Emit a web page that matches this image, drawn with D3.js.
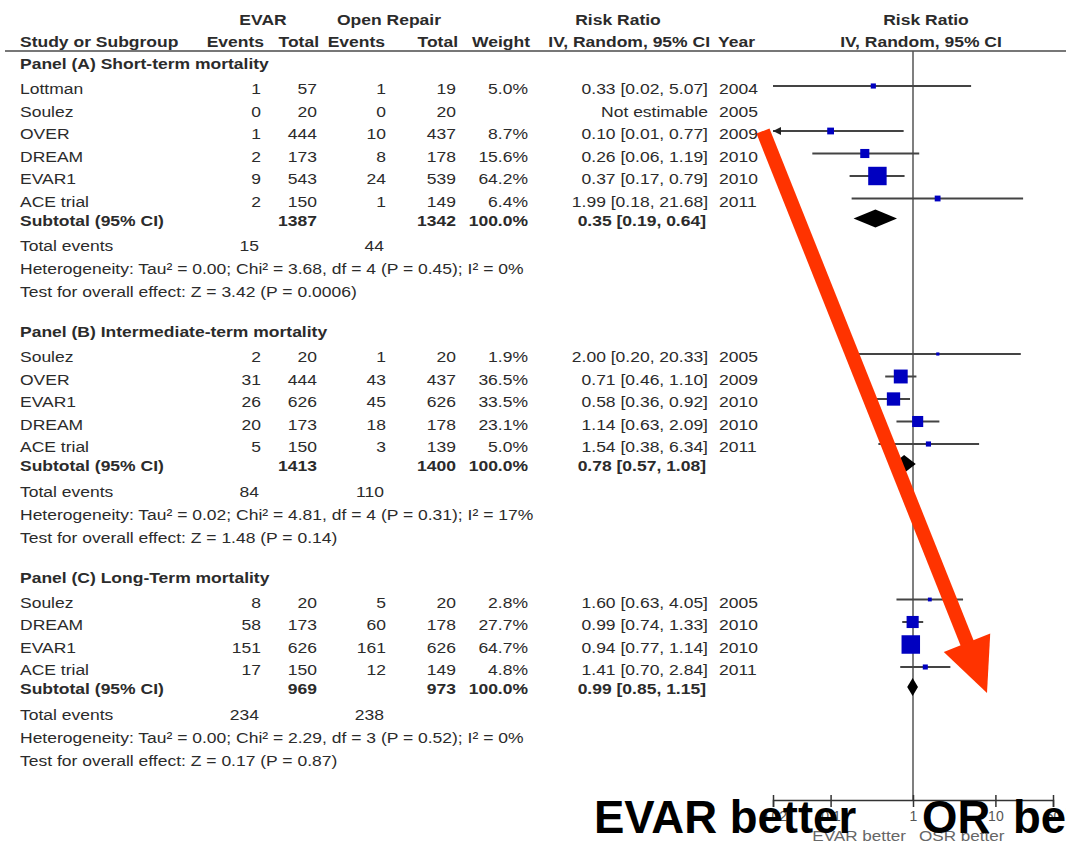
<!DOCTYPE html>
<html>
<head>
<meta charset="utf-8">
<script src="https://cdn.jsdelivr.net/npm/d3@7"></script>
<style>
  body { margin: 0; background: #fff; }
  svg text { font-family: "Liberation Sans", Arial, sans-serif; }
</style>
</head>
<body>
<div id="chart"></div>
<script>
// study rows: [name, evarEvents, evarTotal, osrEvents, osrTotal, weight %, RR, lower, upper, year]
const panelTitles = [
  "Panel (A) Short-term mortality",
  "Panel (B) Intermediate-term mortality",
  "Panel (C) Long-Term mortality"
];
const shortTermRows = [
  ["Lottman", 1, 57, 1, 19, 5.0, 0.33, 0.02, 5.07, 2004],
  ["Soulez", 0, 20, 0, 20, null, null, null, null, 2005],
  ["OVER", 1, 444, 10, 437, 8.7, 0.10, 0.01, 0.77, 2009],
  ["DREAM", 2, 173, 8, 178, 15.6, 0.26, 0.06, 1.19, 2010],
  ["EVAR1", 9, 543, 24, 539, 64.2, 0.37, 0.17, 0.79, 2010],
  ["ACE trial", 2, 150, 1, 149, 6.4, 1.99, 0.18, 21.68, 2011]
];
const intermediateRows = [
  ["Soulez", 2, 20, 1, 20, 1.9, 2.00, 0.20, 20.33, 2005],
  ["OVER", 31, 444, 43, 437, 36.5, 0.71, 0.46, 1.10, 2009],
  ["EVAR1", 26, 626, 45, 626, 33.5, 0.58, 0.36, 0.92, 2010],
  ["DREAM", 20, 173, 18, 178, 23.1, 1.14, 0.63, 2.09, 2010],
  ["ACE trial", 5, 150, 3, 139, 5.0, 1.54, 0.38, 6.34, 2011]
];
const longTermRows = [
  ["Soulez", 8, 20, 5, 20, 2.8, 1.60, 0.63, 4.05, 2005],
  ["DREAM", 58, 173, 60, 178, 27.7, 0.99, 0.74, 1.33, 2010],
  ["EVAR1", 151, 626, 161, 626, 64.7, 0.94, 0.77, 1.14, 2010],
  ["ACE trial", 17, 150, 12, 149, 4.8, 1.41, 0.70, 2.84, 2011]
];
// [evarTotal, osrTotal, RR, lower, upper]
const subtotals = [
  [1387, 1342, 0.35, 0.19, 0.64],
  [1413, 1400, 0.78, 0.57, 1.08],
  [969, 973, 0.99, 0.85, 1.15]
];
const totalEvents = [[15, 44], [84, 110], [234, 238]];
const heterogeneity = [
  "Heterogeneity: Tau² = 0.00; Chi² = 3.68, df = 4 (P = 0.45); I² = 0%",
  "Heterogeneity: Tau² = 0.02; Chi² = 4.81, df = 4 (P = 0.31); I² = 17%",
  "Heterogeneity: Tau² = 0.00; Chi² = 2.29, df = 3 (P = 0.52); I² = 0%"
];
const overallEffect = [
  "Test for overall effect: Z = 3.42 (P = 0.0006)",
  "Test for overall effect: Z = 1.48 (P = 0.14)",
  "Test for overall effect: Z = 0.17 (P = 0.87)"
];
const rrTicks = [0.02, 0.1, 1, 10, 50];
const favourLabels = ["EVAR better", "OSR better"];

const width = 1066, height = 844;
const textCol = "#2b2b2b";
const col = { name: 20, evEv: 261, evTot: 317, osEv: 386, osTot: 456, wt: 528, rr: 708, year: 719 };

const svg = d3.select("#chart").append("svg")
  .attr("width", width).attr("height", height)
  .style("background", "#fff");

const x = d3.scaleLog().domain([0.02, 50]).range([773, 1053]);
const axisY = 800;

// the source image is stretched sideways, so text gets a horizontal scale
function txt(xp, yp, s, opts) {
  const o = Object.assign({ anchor: "start", bold: false, size: 15.5, sx: 1.13, fill: textCol }, opts || {});
  return svg.append("text")
    .attr("transform", `translate(${xp},${yp}) scale(${o.sx},1)`)
    .attr("text-anchor", o.anchor)
    .attr("font-size", o.size)
    .attr("font-weight", o.bold ? "bold" : "normal")
    .attr("fill", o.fill)
    .text(s);
}

// header
txt(263, 25, "EVAR", { anchor: "middle", bold: true });
txt(389, 25, "Open Repair", { anchor: "middle", bold: true });
txt(618, 25, "Risk Ratio", { anchor: "middle", bold: true });
txt(926, 25, "Risk Ratio", { anchor: "middle", bold: true });
txt(col.name, 47, "Study or Subgroup", { bold: true });
txt(264, 47, "Events", { anchor: "end", bold: true });
txt(319, 47, "Total", { anchor: "end", bold: true });
txt(385, 47, "Events", { anchor: "end", bold: true });
txt(458, 47, "Total", { anchor: "end", bold: true });
txt(530, 47, "Weight", { anchor: "end", bold: true });
txt(710, 47, "IV, Random, 95% CI", { anchor: "end", bold: true });
txt(col.year - 1, 47, "Year", { bold: true });
txt(921, 47, "IV, Random, 95% CI", { anchor: "middle", bold: true });

svg.append("line").attr("x1", 5).attr("x2", width).attr("y1", 51).attr("y2", 51)
  .attr("stroke", "#777").attr("stroke-width", 2);

// line of no effect
svg.append("line").attr("x1", x(1)).attr("x2", x(1)).attr("y1", 51).attr("y2", axisY)
  .attr("stroke", "#555").attr("stroke-width", 1.5);

const panels = [shortTermRows, intermediateRows, longTermRows];
const fmt = d3.format(".2f");
const step = 22.5;
let y = 64;

panels.forEach((rows, p) => {
  txt(col.name, y + 5, panelTitles[p], { bold: true });
  const rowY = rows.map((r, i) => y + 25 + i * step);

  rows.forEach((r, i) => {
    const cy = rowY[i];
    txt(col.name, cy + 5, r[0]);
    txt(col.evEv, cy + 5, r[1], { anchor: "end" });
    txt(col.evTot, cy + 5, r[2], { anchor: "end" });
    txt(col.osEv, cy + 5, r[3], { anchor: "end" });
    txt(col.osTot, cy + 5, r[4], { anchor: "end" });
    if (r[5] != null) txt(col.wt, cy + 5, r[5].toFixed(1) + "%", { anchor: "end" });
    txt(col.rr, cy + 5, r[6] == null ? "Not estimable"
      : `${fmt(r[6])} [${fmt(r[7])}, ${fmt(r[8])}]`, { anchor: "end" });
    txt(col.year, cy + 5, r[9]);

    if (r[6] == null) return;
    const my = cy - 3;
    const [d0, d1] = x.domain();
    const lo = Math.max(r[7], d0), hi = Math.min(r[8], d1);
    svg.append("line").attr("x1", x(lo)).attr("x2", x(hi)).attr("y1", my).attr("y2", my)
      .attr("stroke", "#444").attr("stroke-width", 2);
    if (r[7] < d0) {
      const ax = x(d0);
      svg.append("path").attr("d", `M${ax},${my} l8,-4 l0,8 z`).attr("fill", "#222");
    }
    const s = 2.3 * Math.sqrt(r[5]);
    svg.append("rect").attr("x", x(r[6]) - s / 2).attr("y", my - s / 2)
      .attr("width", s).attr("height", s).attr("fill", "#0000c0");
  });

  const last = rowY[rowY.length - 1];
  const subY = last + 19;
  const st = subtotals[p];
  txt(col.name, subY + 5, "Subtotal (95% CI)", { bold: true });
  txt(col.evTot, subY + 5, st[0], { bold: true, anchor: "end" });
  txt(col.osTot, subY + 5, st[1], { bold: true, anchor: "end" });
  txt(col.wt, subY + 5, "100.0%", { bold: true, anchor: "end" });
  txt(col.rr - 2, subY + 5, `${fmt(st[2])} [${fmt(st[3])}, ${fmt(st[4])}]`, { bold: true, anchor: "end" });
  const dy = subY - 2, dh = 9;
  svg.append("path")
    .attr("d", `M${x(st[3])},${dy} L${x(st[2])},${dy - dh} L${x(st[4])},${dy} L${x(st[2])},${dy + dh} Z`)
    .attr("fill", "#000");

  const totY = subY + 25.5;
  txt(col.name, totY + 5, "Total events");
  txt(col.evEv - 2, totY + 5, totalEvents[p][0], { anchor: "end" });
  txt(col.osEv - 2, totY + 5, totalEvents[p][1], { anchor: "end" });
  txt(col.name, totY + 23 + 5, heterogeneity[p]);
  txt(col.name, totY + 46 + 5, overallEffect[p]);
  y = totY + 46 + 40;
});

// axis
const axis = svg.append("g").attr("transform", `translate(0,${axisY})`)
  .call(d3.axisBottom(x).tickValues(rrTicks).tickFormat(d => String(d)).tickSizeOuter(0).tickSize(7));
axis.select(".domain").attr("stroke", "#333").attr("stroke-width", 1.5);
axis.selectAll(".tick line").attr("y1", -5).attr("y2", 7).attr("stroke", "#333").attr("stroke-width", 1.5);
axis.selectAll(".tick text").attr("y", 11).attr("font-size", 14).attr("fill", "#555")
  .attr("font-family", "Liberation Sans, Arial, sans-serif");
txt(x(1) - 7, 841, favourLabels[0], { anchor: "end", size: 14.5, sx: 1.18, fill: "#666" });
txt(x(1) + 6, 841, favourLabels[1], { size: 14.5, sx: 1.18, fill: "#666" });

// red annotation arrow
const arrowStart = [763, 131], arrowTip = [987, 693];
const ddx = arrowTip[0] - arrowStart[0], ddy = arrowTip[1] - arrowStart[1];
const len = Math.hypot(ddx, ddy), ux = ddx / len, uy = ddy / len;
const headLen = 54, headHalf = 25;
const base = [arrowTip[0] - ux * headLen, arrowTip[1] - uy * headLen];
svg.append("line").attr("x1", arrowStart[0]).attr("y1", arrowStart[1])
  .attr("x2", base[0] + ux * 2).attr("y2", base[1] + uy * 2)
  .attr("stroke", "#ff3300").attr("stroke-width", 14);
svg.append("path")
  .attr("d", `M${base[0] - uy * headHalf},${base[1] + ux * headHalf} L${arrowTip[0]},${arrowTip[1]} L${base[0] + uy * headHalf},${base[1] - ux * headHalf} Z`)
  .attr("fill", "#ff3300");

// big overlay caption
txt(594, 833, "EVAR better", { bold: true, size: 45.5, sx: 1, fill: "#000" });
txt(922, 833, "OR", { bold: true, size: 45.5, sx: 1, fill: "#000" });
txt(1013, 833, "better", { bold: true, size: 45.5, sx: 1, fill: "#000" });
</script>
</body>
</html>
